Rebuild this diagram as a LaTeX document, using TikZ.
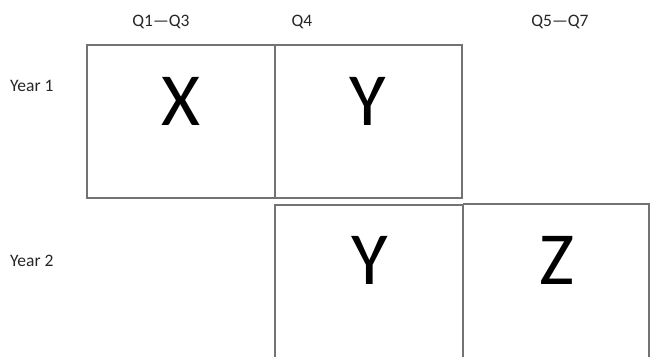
\documentclass[tikz,border=0pt]{standalone}
\usepackage{fontspec}
\setmainfont{Carlito}
\begin{document}
\begin{tikzpicture}[x=1pt,y=-1pt,
  cell/.style={draw=black!55, line width=1.1pt},
  big/.style={font=\fontsize{75}{75}\selectfont, inner sep=0pt, anchor=center},
  lab/.style={font=\fontsize{17.5}{18}\selectfont, text=black!85, inner sep=0pt}]
\useasboundingbox (0,0) rectangle (650,356);
\draw[cell] (87,45) rectangle (275,198);
\draw[cell] (275,45) rectangle (462,198);
\draw[cell] (275,357) -- (275,205) -- (463,205) -- (463,357);
\draw[cell] (463,204) -- (649,204) -- (649,357);
\node[big] (x) at (181,101) {X};
\node[big] (y1) at (368,101) {Y};
\node[big] (y2) at (370,260) {Y};
\node[big] (z) at (557,260) {Z};
\node[lab, anchor=west] (yr1) at (10,86) {Year 1};
\node[lab, anchor=west] (yr2) at (10,261) {Year 2};
\node[lab] (q13) at (161,22) {Q1—Q3};
\node[lab] (q4) at (302,22) {Q4};
\node[lab] (q57) at (560,22) {Q5—Q7};
\end{tikzpicture}
\end{document}
